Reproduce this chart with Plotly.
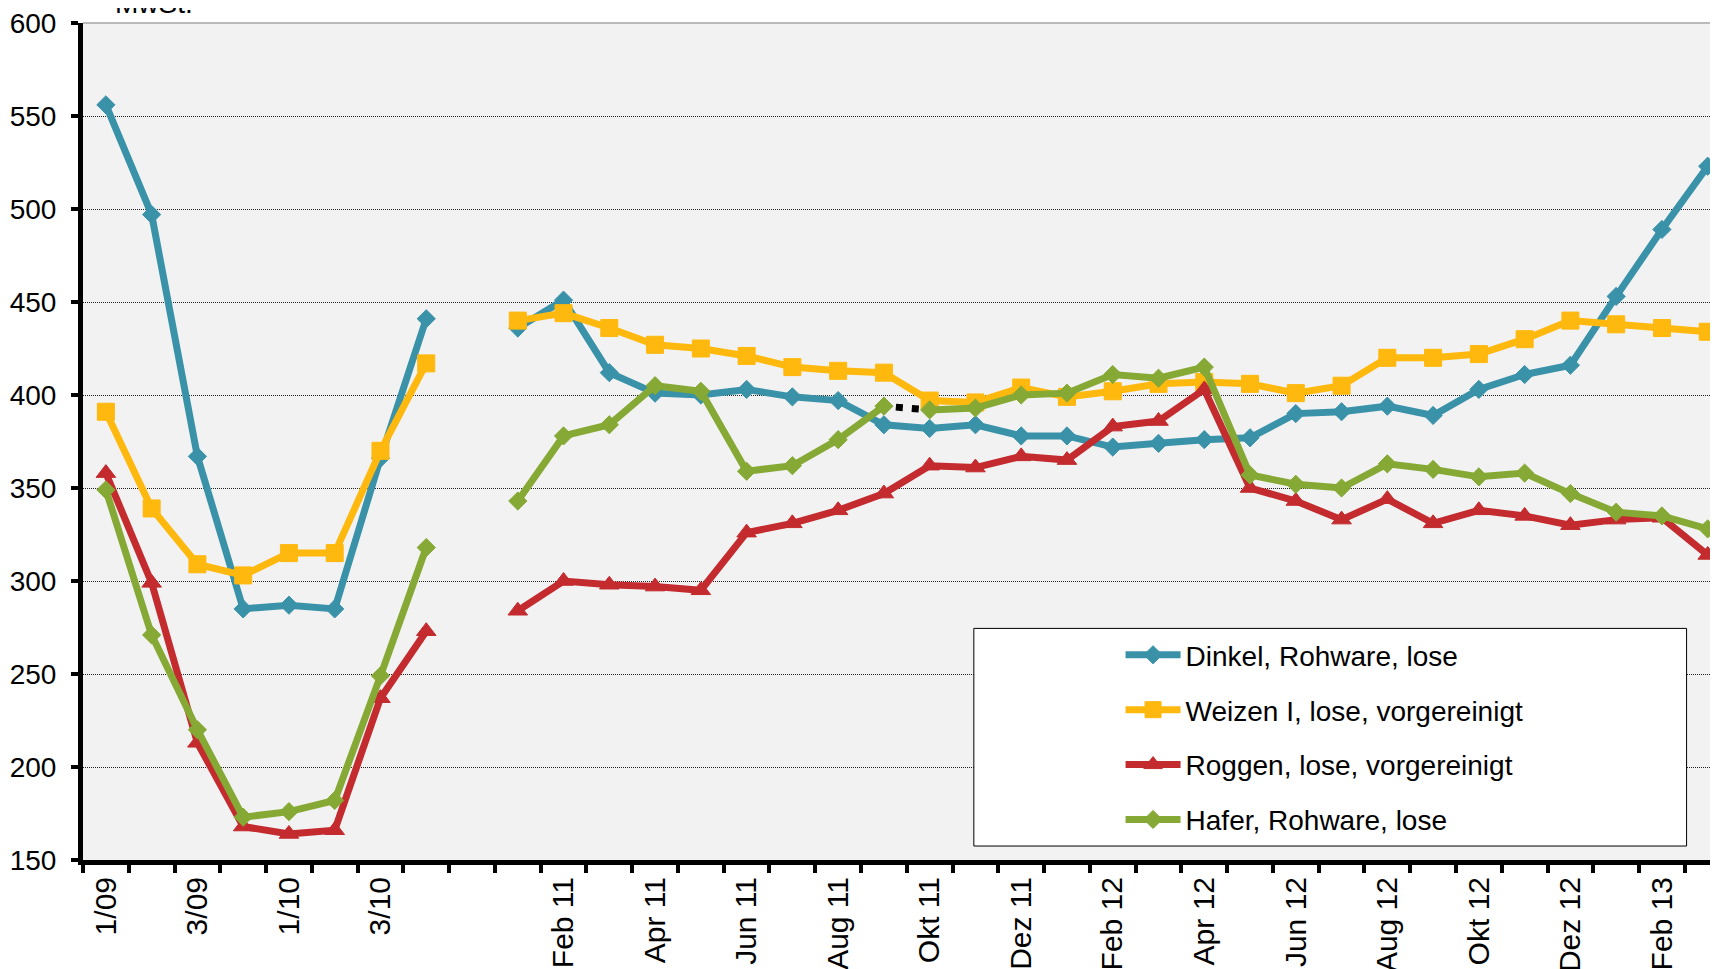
"""
Getreidepreise: Dinkel, Weizen, Roggen, Hafer (EUR/t, ohne MwSt.)
quarterly 2009/2010, monthly Jan 11 .. Mär 13
"""

import plotly.graph_objects as go

# ---------------------------------------------------------------
# data
categories = ["1/09", "2/09", "3/09", "4/09", "1/10", "2/10", "3/10", "4/10", "",
              "Jan 11", "Feb 11", "Mär 11", "Apr 11", "Mai 11", "Jun 11", "Jul 11",
              "Aug 11", "Sep 11", "Okt 11", "Nov 11", "Dez 11",
              "Jan 12", "Feb 12", "Mär 12", "Apr 12", "Mai 12", "Jun 12", "Jul 12",
              "Aug 12", "Sep 12", "Okt 12", "Nov 12", "Dez 12",
              "Jan 13", "Feb 13", "Mär 13"]

tick_labels = ["1/09", "3/09", "1/10", "3/10", "Feb 11", "Apr 11", "Jun 11", "Aug 11",
               "Okt 11", "Dez 11", "Feb 12", "Apr 12", "Jun 12", "Aug 12", "Okt 12",
               "Dez 12", "Feb 13"]

dinkel = [556, 497, 367, 285, 287, 285, 366, 441, None,
          436, 451, 412, 401, 400, 403, 399, 397, 384, 382, 384, 378,
          378, 372, 374, 376, 377, 390, 391, 394, 389, 403, 411, 416,
          453, 489, 523]
weizen = [391, 339, 309, 303, 315, 315, 370, 417, None,
          440, 444, 436, 427, 425, 421, 415, 413, 412, 397, 396, 404,
          399, 402, 406, 407, 406, 401, 405, 420, 420, 422, 430, 440,
          438, 436, 434]
roggen = [358, 299, 213, 168, 164, 166, 237, 273, None,
          284, 300, 298, 297, 295, 326, 331, 338, 347, 362, 361, 367,
          365, 383, 386, 403, 350, 343, 333, 344, 331, 338, 335, 330,
          333, 334, 314]
hafer = [349, 271, 220, 173, 176, 182, 249, 318, None,
         343, 378, 384, 405, 402, 359, 362, 376, 394, 392, 393, 400,
         401, 411, 409, 415, 357, 352, 350, 363, 360, 356, 358, 347,
         337, 335, 328]
hafer_break = 18  # Hafer line is interrupted before Okt 11 (dotted link)

series = [
    ("Dinkel, Rohware, lose", dinkel, "#3A92A9", "diamond", 14),
    ("Weizen I, lose, vorgereinigt", weizen, "#FFB80D", "square", 17),
    ("Roggen, lose, vorgereinigt", roggen, "#C32B2E", "triangle-up", 17),
]
HAFER_COLOR = "#85A934"

FONT = "Arial, Liberation Sans, sans-serif"
FS = 28
pos = list(range(len(categories)))
tick_pos = [categories.index(t) for t in tick_labels]

fig = go.Figure()

for name, vals, color, symbol, msize in series:
    fig.add_trace(go.Scatter(
        x=pos, y=vals, name=name, legendgroup=name,
        mode="lines+markers",
        line=dict(color=color, width=7),
        marker=dict(symbol=symbol, size=msize, color=color,
                    line=dict(color=color, width=1)),
        connectgaps=False,
    ))

# dotted black link over the Hafer gap
fig.add_trace(go.Scatter(
    x=pos[hafer_break - 1:hafer_break + 1],
    y=hafer[hafer_break - 1:hafer_break + 1],
    mode="lines", showlegend=False, hoverinfo="skip",
    line=dict(color="black", width=7, dash="0px,12px,7px,9px,7px,40px"),
))

hafer_a = hafer[:hafer_break] + [None] * (len(hafer) - hafer_break)
hafer_b = [None] * hafer_break + hafer[hafer_break:]
for part, show in ((hafer_a, True), (hafer_b, False)):
    fig.add_trace(go.Scatter(
        x=pos, y=part, name="Hafer, Rohware, lose", legendgroup="hafer",
        showlegend=show, mode="lines+markers",
        line=dict(color=HAFER_COLOR, width=7),
        marker=dict(symbol="diamond", size=14, color=HAFER_COLOR,
                    line=dict(color=HAFER_COLOR, width=1)),
        connectgaps=False,
    ))

# ---------------------------------------------------------------
# axes
fig.update_xaxes(
    range=[-0.5, 35.4],
    tickmode="array", tickvals=tick_pos, ticktext=tick_labels,
    tickangle=-90, ticks="",
    tickfont=dict(family=FONT, size=30, color="black"),
    showline=True, linecolor="black", linewidth=5,
    showgrid=False, zeroline=False,
    minor=dict(tick0=0.5, dtick=1, ticks="outside", ticklen=8, tickwidth=4,
               tickcolor="black", showgrid=False),
)
fig.update_yaxes(
    range=[150, 600], dtick=50,
    ticks="outside", ticklen=7, tickwidth=4, tickcolor="black",
    tickfont=dict(family=FONT, size=FS, color="black"),
    ticklabeloverflow="allow", ticklabelstandoff=9,
    showline=True, linecolor="black", linewidth=5,
    showgrid=True, gridcolor="#222222", gridwidth=1, griddash="1px,1px",
    zeroline=False,
)

# plot frame top line + legend box
fig.add_shape(type="line", xref="paper", yref="paper", x0=0, x1=1, y0=1, y1=1,
              line=dict(color="#A6A6A6", width=1.5), layer="above")
fig.add_shape(type="rect", xref="paper", yref="paper",
              x0=0.5422, x1=0.976, y0=0.0167, y1=0.2767,
              fillcolor="white", line=dict(color="black", width=1), layer="above")

# unit label, cut at the top edge like in the source picture
fig.add_annotation(text="MwSt.", xref="paper", yref="paper", x=0.018, y=1,
                   xanchor="left", yanchor="bottom", yshift=2, showarrow=False,
                   font=dict(family=FONT, size=FS, color="black"))

fig.update_layout(
    width=1718, height=969,
    margin=dict(l=75, r=0, t=11, b=117),
    plot_bgcolor="#F2F2F2", paper_bgcolor="white",
    showlegend=True,
    legend=dict(
        x=0.6315, y=0.2747, xanchor="left", yanchor="top",
        bgcolor="rgba(0,0,0,0)", borderwidth=0,
        font=dict(family=FONT, size=FS, color="black"),
        traceorder="grouped", tracegroupgap=15.5, itemwidth=55,
    ),
)

fig.write_html("out.html")
